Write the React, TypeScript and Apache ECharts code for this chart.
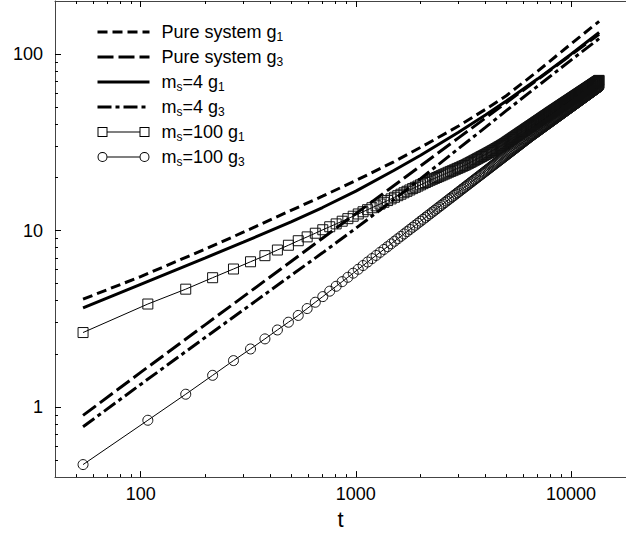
import React, { useEffect, useRef } from 'react';
import * as echarts from 'echarts';

// ---------- data ----------
const T_SYM = [
  54, 108, 162, 216, 270, 324, 378, 432, 486, 540,
  594, 648, 702, 756, 810, 864, 918, 972, 1026, 1080,
  1134, 1188, 1242, 1296, 1350, 1404, 1458, 1512, 1566, 1620,
  1674, 1728, 1782, 1836, 1890, 1944, 1998, 2052, 2106, 2160,
  2214, 2268, 2322, 2376, 2430, 2484, 2538, 2592, 2646, 2700,
  2754, 2808, 2862, 2916, 2970, 3024, 3078, 3132, 3186, 3240,
  3294, 3348, 3402, 3456, 3510, 3564, 3618, 3672, 3726, 3780,
  3834, 3888, 3942, 3996, 4050, 4104, 4158, 4212, 4266, 4320,
  4374, 4428, 4482, 4536, 4590, 4644, 4698, 4752, 4806, 4860,
  4914, 4968, 5022, 5076, 5130, 5184, 5238, 5292, 5346, 5400,
  5454, 5508, 5562, 5616, 5670, 5724, 5778, 5832, 5886, 5940,
  5994, 6048, 6102, 6156, 6210, 6264, 6318, 6372, 6426, 6480,
  6534, 6588, 6642, 6696, 6750, 6804, 6858, 6912, 6966, 7020,
  7074, 7128, 7182, 7236, 7290, 7344, 7398, 7452, 7506, 7560,
  7614, 7668, 7722, 7776, 7830, 7884, 7938, 7992, 8046, 8100,
  8154, 8208, 8262, 8316, 8370, 8424, 8478, 8532, 8586, 8640,
  8694, 8748, 8802, 8856, 8910, 8964, 9018, 9072, 9126, 9180,
  9234, 9288, 9342, 9396, 9450, 9504, 9558, 9612, 9666, 9720,
  9774, 9828, 9882, 9936, 9990, 10044, 10098, 10152, 10206, 10260,
  10314, 10368, 10422, 10476, 10530, 10584, 10638, 10692, 10746, 10800,
  10854, 10908, 10962, 11016, 11070, 11124, 11178, 11232, 11286, 11340,
  11394, 11448, 11502, 11556, 11610, 11664, 11718, 11772, 11826, 11880,
  11934, 11988, 12042, 12096, 12150, 12204, 12258, 12312, 12366, 12420,
  12474, 12528, 12582, 12636, 12690, 12744, 12798, 12852, 12906, 12960,
  13014, 13068, 13122, 13176, 13230, 13284, 13338, 13392, 13446, 13500,
];

const G1_MS100 = [
  2.64, 3.83, 4.65, 5.4, 6.05, 6.65, 7.2, 7.75, 8.25, 8.75,
  9.2, 9.65, 10.1, 10.5, 10.9, 11.29, 11.67, 12.05, 12.41, 12.77,
  13.12, 13.46, 13.8, 14.13, 14.45, 14.78, 15.11, 15.43, 15.75, 16.06,
  16.37, 16.68, 16.98, 17.28, 17.57, 17.86, 18.15, 18.43, 18.71, 18.99,
  19.26, 19.5, 19.74, 19.97, 20.21, 20.45, 20.69, 20.93, 21.16, 21.4,
  21.62, 21.83, 22.05, 22.27, 22.49, 22.7, 22.92, 23.14, 23.35, 23.57,
  23.82, 24.06, 24.31, 24.55, 24.8, 25.04, 25.29, 25.53, 25.78, 26.02,
  26.26, 26.5, 26.73, 26.97, 27.21, 27.45, 27.69, 27.92, 28.16, 28.4,
  28.65, 28.89, 29.14, 29.38, 29.63, 29.87, 30.12, 30.36, 30.61, 30.85,
  31.13, 31.41, 31.69, 31.97, 32.25, 32.53, 32.81, 33.09, 33.37, 33.65,
  33.93, 34.2, 34.48, 34.75, 35.03, 35.3, 35.58, 35.85, 36.13, 36.4,
  36.67, 36.94, 37.21, 37.48, 37.75, 38.02, 38.29, 38.56, 38.83, 39.1,
  39.37, 39.63, 39.9, 40.17, 40.44, 40.7, 40.97, 41.24, 41.5, 41.77,
  42.03, 42.3, 42.56, 42.82, 43.09, 43.35, 43.61, 43.87, 44.14, 44.4,
  44.66, 44.92, 45.18, 45.44, 45.7, 45.96, 46.22, 46.48, 46.74, 47.0,
  47.25, 47.5, 47.75, 48.0, 48.26, 48.51, 48.76, 49.01, 49.26, 49.51,
  49.76, 50.01, 50.26, 50.51, 50.76, 51.0, 51.25, 51.5, 51.75, 52.0,
  52.25, 52.49, 52.74, 52.98, 53.23, 53.47, 53.72, 53.96, 54.21, 54.45,
  54.69, 54.94, 55.18, 55.42, 55.67, 55.91, 56.15, 56.39, 56.64, 56.88,
  57.12, 57.36, 57.6, 57.84, 58.08, 58.32, 58.56, 58.8, 59.04, 59.28,
  59.52, 59.76, 59.99, 60.23, 60.47, 60.71, 60.95, 61.18, 61.42, 61.66,
  61.9, 62.13, 62.37, 62.6, 62.84, 63.08, 63.31, 63.55, 63.78, 64.02,
  64.25, 64.49, 64.72, 64.96, 65.19, 65.42, 65.66, 65.89, 66.13, 66.36,
  66.59, 66.82, 67.06, 67.29, 67.52, 67.75, 67.98, 68.22, 68.45, 68.68,
  68.91, 69.14, 69.37, 69.6, 69.83, 70.06, 70.29, 70.52, 70.75, 70.98,
];

const G3_MS100 = [
  0.471, 0.84, 1.18, 1.51, 1.83, 2.13, 2.43, 2.73, 3.02, 3.3,
  3.61, 3.92, 4.22, 4.53, 4.83, 5.13, 5.43, 5.73, 6.03, 6.33,
  6.63, 6.93, 7.22, 7.52, 7.81, 8.1, 8.4, 8.69, 8.98, 9.27,
  9.56, 9.85, 10.14, 10.43, 10.71, 11.0, 11.29, 11.57, 11.86, 12.15,
  12.43, 12.72, 13.0, 13.28, 13.57, 13.85, 14.13, 14.41, 14.7, 14.98,
  15.26, 15.54, 15.82, 16.1, 16.38, 16.66, 16.94, 17.22, 17.5, 17.78,
  18.06, 18.34, 18.61, 18.89, 19.17, 19.45, 19.73, 20.0, 20.28, 20.56,
  20.83, 21.11, 21.38, 21.66, 21.93, 22.2, 22.48, 22.75, 23.03, 23.3,
  23.57, 23.85, 24.12, 24.39, 24.67, 24.94, 25.21, 25.48, 25.76, 26.03,
  26.3, 26.57, 26.84, 27.11, 27.39, 27.66, 27.93, 28.2, 28.47, 28.74,
  29.01, 29.28, 29.55, 29.82, 30.09, 30.36, 30.63, 30.9, 31.17, 31.44,
  31.71, 31.98, 32.24, 32.51, 32.78, 33.05, 33.32, 33.58, 33.85, 34.12,
  34.37, 34.62, 34.87, 35.12, 35.37, 35.62, 35.87, 36.12, 36.37, 36.62,
  36.87, 37.12, 37.37, 37.62, 37.87, 38.11, 38.36, 38.61, 38.86, 39.11,
  39.36, 39.6, 39.85, 40.09, 40.34, 40.59, 40.83, 41.08, 41.32, 41.57,
  41.81, 42.06, 42.3, 42.55, 42.79, 43.03, 43.28, 43.52, 43.77, 44.01,
  44.25, 44.5, 44.74, 44.98, 45.22, 45.47, 45.71, 45.95, 46.2, 46.44,
  46.68, 46.92, 47.16, 47.4, 47.65, 47.89, 48.13, 48.37, 48.61, 48.85,
  49.09, 49.33, 49.57, 49.81, 50.05, 50.28, 50.52, 50.76, 51.0, 51.24,
  51.48, 51.72, 51.95, 52.19, 52.43, 52.67, 52.91, 53.14, 53.38, 53.62,
  53.86, 54.09, 54.33, 54.57, 54.81, 55.04, 55.28, 55.52, 55.75, 55.99,
  56.23, 56.46, 56.7, 56.93, 57.17, 57.4, 57.64, 57.87, 58.11, 58.34,
  58.57, 58.81, 59.04, 59.28, 59.51, 59.74, 59.98, 60.21, 60.45, 60.68,
  60.91, 61.15, 61.38, 61.61, 61.85, 62.08, 62.31, 62.54, 62.78, 63.01,
  63.24, 63.47, 63.71, 63.94, 64.17, 64.4, 64.63, 64.87, 65.1, 65.33,
];

const T_LINE = [54, 100, 200, 300, 500, 700, 1000, 1500, 2000, 3000, 4000, 5000, 7000, 10000, 13500];
const G1_PURE = [4.08, 5.48, 7.85, 9.78, 13.0, 15.65, 19.2, 24.5, 29.6, 39.1, 48.6, 58.1, 80.0, 114.3, 153.4];
const G3_PURE = [0.895, 1.569, 2.928, 4.217, 6.678, 9.04, 12.46, 17.95, 23.25, 33.49, 43.39, 53.04, 71.8, 98.98, 129.7];
const G1_MS4 = [3.64, 4.95, 7.0, 8.58, 11.19, 13.5, 16.73, 21.9, 26.7, 36.1, 45.2, 54.2, 72.4, 99.9, 132.5];
const G3_MS4 = [0.772, 1.341, 2.481, 3.544, 5.565, 7.471, 10.3, 14.96, 19.7, 29.12, 38.4, 47.78, 65.87, 92.5, 122.4];

const SERIES_NAMES = ['Pure system g1', 'Pure system g3', 'ms=4 g1', 'ms=4 g3', 'ms=100 g1', 'ms=100 g3'];
const LEGEND_LABELS = [
  'Pure system g{s|1}',
  'Pure system g{s|3}',
  'm{s|s}=4 g{s|1}',
  'm{s|s}=4 g{s|3}',
  'm{s|s}=100 g{s|1}',
  'm{s|s}=100 g{s|3}',
];

const X_MAJOR = [100, 1000, 10000];
const X_MINOR = [50, 60, 70, 80, 90, 200, 300, 400, 500, 600, 700, 800, 900,
  2000, 3000, 4000, 5000, 6000, 7000, 8000, 9000];
const Y_MAJOR = [1, 10, 100];
const Y_MINOR = [0.5, 0.6, 0.7, 0.8, 0.9, 2, 3, 4, 5, 6, 7, 8, 9,
  20, 30, 40, 50, 60, 70, 80, 90];

const X_MIN = 40;
const X_MAX = 18000;
const Y_MIN = 0.4;
const Y_MAX = 200;

const FONT = '"Liberation Sans", Arial, Helvetica, sans-serif';

const SQUARE_ICON =
  'path://M0,0H10V10H0Z M1,1V9H9V1Z M42,0H52V10H42Z M43,1V9H51V1Z M10,4.5H42V5.5H10Z';
const CIRCLE_ICON =
  'path://M5,0A5,5 0 1,1 5,10A5,5 0 1,1 5,0Z M5,1A4,4 0 1,0 5,9A4,4 0 1,0 5,1Z ' +
  'M47,0A5,5 0 1,1 47,10A5,5 0 1,1 47,0Z M47,1A4,4 0 1,0 47,9A4,4 0 1,0 47,1Z M10,4.5H42V5.5H10Z';

function pair(xs: number[], ys: number[]) {
  return xs.map((x, i) => [x, ys[i]]);
}

export default function App() {
  const ref = useRef<HTMLDivElement>(null);

  useEffect(() => {
    if (!ref.current) return;
    const chart = echarts.init(ref.current, undefined, { renderer: 'svg' });

    const axisLineStyle = { color: '#444', width: 1 };
    const tickLine = { color: '#000', width: 1 };
    const xBase = { type: 'log', logBase: 10, min: X_MIN, max: X_MAX, splitLine: { show: false } };
    const yBase = { type: 'log', logBase: 10, min: Y_MIN, max: Y_MAX, splitLine: { show: false } };
    const fmt = (v: number) => String(Math.round(v));

    const thick = (name: string, ys: number[], dash: any) => ({
      name,
      type: 'line',
      data: pair(T_LINE, ys),
      xAxisIndex: 0,
      yAxisIndex: 0,
      symbol: 'none',
      showSymbol: false,
      smooth: false,
      lineStyle: { color: '#000', width: 3, type: dash },
      itemStyle: { color: '#000' },
      z: 4,
      silent: true,
    });

    const marked = (name: string, ys: number[], sym: string) => ({
      name,
      type: 'line',
      data: pair(T_SYM, ys),
      xAxisIndex: 0,
      yAxisIndex: 0,
      symbol: sym,
      symbolSize: 10,
      showSymbol: true,
      showAllSymbol: true,
      lineStyle: { color: '#000', width: 1 },
      itemStyle: { color: 'transparent', borderColor: '#111', borderWidth: 1 },
      z: 3,
      silent: true,
    });

    const lineLegend = (name: string) => ({
      name,
      lineStyle: { width: 3, color: '#000' },
      itemStyle: { color: 'transparent', borderColor: 'transparent', borderWidth: 0, opacity: 0 },
    });

    const option: any = {
      animation: false,
      backgroundColor: '#fff',
      grid: { left: 55, top: 1, right: 0, bottom: 51, containLabel: false },
      legend: {
        orient: 'vertical',
        left: 96,
        top: 21,
        padding: 0,
        itemWidth: 52,
        itemHeight: 10,
        itemGap: 3,
        selectedMode: false,
        formatter: (name: string) => LEGEND_LABELS[SERIES_NAMES.indexOf(name)],
        textStyle: {
          fontSize: 18,
          fontFamily: FONT,
          color: '#000',
          lineHeight: 22,
          padding: [0, 0, 0, 7],
          rich: {
            s: { fontSize: 12, lineHeight: 12, verticalAlign: 'bottom', fontFamily: FONT, color: '#000' },
          },
        },
        data: [
          lineLegend(SERIES_NAMES[0]),
          lineLegend(SERIES_NAMES[1]),
          lineLegend(SERIES_NAMES[2]),
          lineLegend(SERIES_NAMES[3]),
          { name: SERIES_NAMES[4], icon: SQUARE_ICON, itemStyle: { color: '#000', borderWidth: 0 } },
          { name: SERIES_NAMES[5], icon: CIRCLE_ICON, itemStyle: { color: '#000', borderWidth: 0 } },
        ],
      },
      xAxis: [
        {
          ...xBase,
          position: 'bottom',
          axisLine: { show: true, onZero: false, lineStyle: axisLineStyle },
          axisTick: { show: true, inside: true, length: 6, customValues: X_MAJOR, lineStyle: tickLine },
          axisLabel: { show: true, customValues: X_MAJOR, formatter: fmt, fontSize: 18, fontFamily: FONT, color: '#000', margin: 8 },
          name: 't',
          nameLocation: 'middle',
          nameGap: 22,
          nameTextStyle: { fontSize: 22, fontFamily: FONT, color: '#000' },
        },
        {
          ...xBase,
          position: 'bottom',
          axisLine: { show: false, onZero: false },
          axisTick: { show: true, inside: true, length: 3, customValues: X_MINOR, lineStyle: tickLine },
          axisLabel: { show: false },
        },
        {
          ...xBase,
          position: 'top',
          axisLine: { show: true, onZero: false, lineStyle: axisLineStyle },
          axisTick: { show: true, inside: true, length: 6, customValues: X_MAJOR, lineStyle: tickLine },
          axisLabel: { show: false },
        },
        {
          ...xBase,
          position: 'top',
          axisLine: { show: false, onZero: false },
          axisTick: { show: true, inside: true, length: 3, customValues: X_MINOR, lineStyle: tickLine },
          axisLabel: { show: false },
        },
      ],
      yAxis: [
        {
          ...yBase,
          position: 'left',
          axisLine: { show: true, onZero: false, lineStyle: axisLineStyle },
          axisTick: { show: true, inside: true, length: 6, customValues: Y_MAJOR, lineStyle: tickLine },
          axisLabel: { show: true, customValues: Y_MAJOR, formatter: fmt, fontSize: 18, fontFamily: FONT, color: '#000', margin: 12 },
        },
        {
          ...yBase,
          position: 'left',
          axisLine: { show: false, onZero: false },
          axisTick: { show: true, inside: true, length: 3, customValues: Y_MINOR, lineStyle: tickLine },
          axisLabel: { show: false },
        },
      ],
      series: [
        marked(SERIES_NAMES[4], G1_MS100, 'rect'),
        marked(SERIES_NAMES[5], G3_MS100, 'circle'),
        thick(SERIES_NAMES[0], G1_PURE, [10, 5]),
        thick(SERIES_NAMES[1], G3_PURE, [16, 5]),
        thick(SERIES_NAMES[2], G1_MS4, 'solid'),
        thick(SERIES_NAMES[3], G3_MS4, [14, 4, 4, 4]),
      ],
    };

    chart.setOption(option);
    return () => chart.dispose();
  }, []);

  return (
    <div
      ref={ref}
      style={{ position: 'fixed', left: 0, top: 0, width: 626, height: 535, background: '#fff' }}
    />
  );
}
